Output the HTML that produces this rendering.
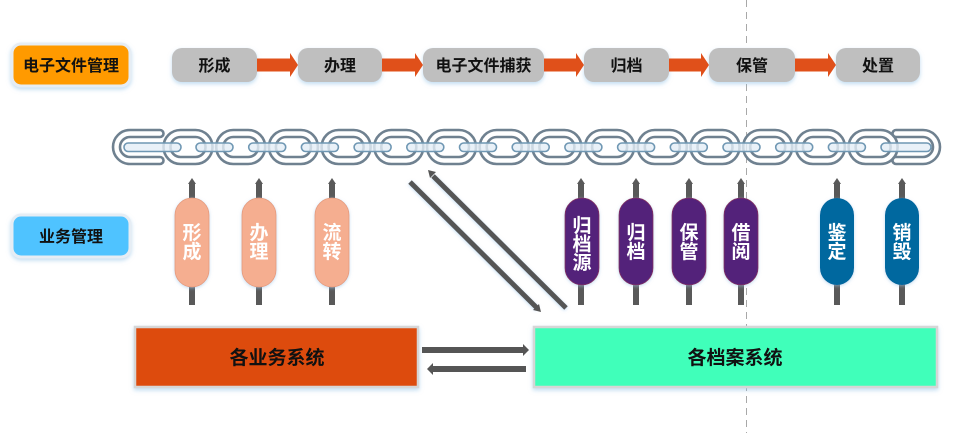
<!DOCTYPE html>
<html>
<head>
<meta charset="utf-8">
<style>
  html, body { margin: 0; padding: 0; background: #ffffff; }
  body { width: 954px; height: 433px; overflow: hidden; }
  svg { display: block; }
  text { font-family: "Liberation Sans", "Noto Sans CJK SC", "WenQuanYi Zen Hei", sans-serif; font-weight: bold; }
</style>
</head>
<body>
<svg width="954" height="433" viewBox="0 0 954 433" xmlns="http://www.w3.org/2000/svg">
  <defs>
    <filter id="sh" x="-20%" y="-20%" width="140%" height="150%">
      <feDropShadow dx="0" dy="2" stdDeviation="2" flood-color="#8fc0e6" flood-opacity="0.55"/>
    </filter>
    <filter id="sh2" x="-20%" y="-20%" width="140%" height="140%">
      <feDropShadow dx="0" dy="1" stdDeviation="1.5" flood-color="#9cc6e8" flood-opacity="0.6"/>
    </filter>
  </defs>

  <!-- dashed vertical line -->
  <line x1="746.5" y1="0" x2="746.5" y2="433" stroke="#a8a8a8" stroke-width="1" stroke-dasharray="7 5"/>

  <!-- Left label boxes -->
  <rect x="12" y="44" width="118" height="42" rx="9" fill="#ff9a00" stroke="#e6edf4" stroke-width="3" filter="url(#sh)"/>
  <text x="71" y="71" font-size="16" text-anchor="middle" fill="#111">电子文件管理</text>

  <rect x="12" y="215" width="118" height="42" rx="9" fill="#4fc3ff" stroke="#e6edf4" stroke-width="3" filter="url(#sh)"/>
  <text x="71" y="242" font-size="16" text-anchor="middle" fill="#111">业务管理</text>

  <!-- Top process boxes -->
  <g filter="url(#sh)">
    <rect x="172" y="48" width="85" height="34" rx="10" fill="#bfbfbf"/>
    <rect x="298" y="48" width="84" height="34" rx="10" fill="#bfbfbf"/>
    <rect x="423" y="48" width="121" height="34" rx="10" fill="#bfbfbf"/>
    <rect x="584" y="48" width="85" height="34" rx="10" fill="#bfbfbf"/>
    <rect x="709" y="48" width="86" height="34" rx="10" fill="#bfbfbf"/>
    <rect x="836" y="48" width="84" height="34" rx="10" fill="#bfbfbf"/>
  </g>
  <g font-size="16" text-anchor="middle" fill="#111">
    <text x="214.5" y="71">形成</text>
    <text x="340" y="71">办理</text>
    <text x="483.5" y="71">电子文件捕获</text>
    <text x="626.5" y="71">归档</text>
    <text x="752" y="71">保管</text>
    <text x="878" y="71">处置</text>
  </g>

  <!-- Orange arrows -->
  <g fill="#e0501a">
    <rect x="257" y="58.5" width="34" height="13"/><polygon points="290,53 298,65 290,77"/>
    <rect x="382" y="58.5" width="34" height="13"/><polygon points="415,53 423,65 415,77"/>
    <rect x="544" y="58.5" width="33" height="13"/><polygon points="576,53 584,65 576,77"/>
    <rect x="669" y="58.5" width="33" height="13"/><polygon points="701,53 709,65 701,77"/>
    <rect x="795" y="58.5" width="34" height="13"/><polygon points="828,53 836,65 828,77"/>
  </g>

  <!-- Chain -->
  <g fill="none" stroke="#6f8190" stroke-width="2.6">
    <!-- left open C -->
    <path d="M160,130 H130 A17,17 0 0 0 130,164 H160"/>
    <path d="M160,137 H130 A10,10 0 0 0 130,157 H160"/>
    <path d="M160,130 A3.5,3.5 0 0 1 160,137"/>
    <path d="M160,157 A3.5,3.5 0 0 1 160,164"/>
    <!-- right open C -->
    <path d="M896,130 H923 A17,17 0 0 1 923,164 H896"/>
    <path d="M896,137 H923 A10,10 0 0 1 923,157 H896"/>
    <path d="M896,130 A3.5,3.5 0 0 0 896,137"/>
    <path d="M896,157 A3.5,3.5 0 0 0 896,164"/>
    <!-- full links -->
    <rect x="163.5" y="130" width="49" height="34" rx="17"/><rect x="170.5" y="137" width="35" height="20" rx="10"/>
    <rect x="216.2" y="130" width="49" height="34" rx="17"/><rect x="223.2" y="137" width="35" height="20" rx="10"/>
    <rect x="268.9" y="130" width="49" height="34" rx="17"/><rect x="275.9" y="137" width="35" height="20" rx="10"/>
    <rect x="321.6" y="130" width="49" height="34" rx="17"/><rect x="328.6" y="137" width="35" height="20" rx="10"/>
    <rect x="374.3" y="130" width="49" height="34" rx="17"/><rect x="381.3" y="137" width="35" height="20" rx="10"/>
    <rect x="427.0" y="130" width="49" height="34" rx="17"/><rect x="434.0" y="137" width="35" height="20" rx="10"/>
    <rect x="479.7" y="130" width="49" height="34" rx="17"/><rect x="486.7" y="137" width="35" height="20" rx="10"/>
    <rect x="532.4" y="130" width="49" height="34" rx="17"/><rect x="539.4" y="137" width="35" height="20" rx="10"/>
    <rect x="585.1" y="130" width="49" height="34" rx="17"/><rect x="592.1" y="137" width="35" height="20" rx="10"/>
    <rect x="637.8" y="130" width="49" height="34" rx="17"/><rect x="644.8" y="137" width="35" height="20" rx="10"/>
    <rect x="690.5" y="130" width="49" height="34" rx="17"/><rect x="697.5" y="137" width="35" height="20" rx="10"/>
    <rect x="743.2" y="130" width="49" height="34" rx="17"/><rect x="750.2" y="137" width="35" height="20" rx="10"/>
    <rect x="795.9" y="130" width="49" height="34" rx="17"/><rect x="802.9" y="137" width="35" height="20" rx="10"/>
    <rect x="848.6" y="130" width="49" height="34" rx="17"/><rect x="855.6" y="137" width="35" height="20" rx="10"/>
  </g>
  <!-- edge-on connecting links -->
  <g fill="#e3eef6" fill-opacity="0.8" stroke="#6f97b3" stroke-width="1.6">
    <rect x="124" y="143" width="57" height="8.5" rx="4.25"/>
    <rect x="196" y="143" width="37" height="8.5" rx="4.25"/>
    <rect x="248.7" y="143" width="37" height="8.5" rx="4.25"/>
    <rect x="301.4" y="143" width="37" height="8.5" rx="4.25"/>
    <rect x="354.1" y="143" width="37" height="8.5" rx="4.25"/>
    <rect x="406.8" y="143" width="37" height="8.5" rx="4.25"/>
    <rect x="459.5" y="143" width="37" height="8.5" rx="4.25"/>
    <rect x="512.2" y="143" width="37" height="8.5" rx="4.25"/>
    <rect x="564.9" y="143" width="37" height="8.5" rx="4.25"/>
    <rect x="617.6" y="143" width="37" height="8.5" rx="4.25"/>
    <rect x="670.3" y="143" width="37" height="8.5" rx="4.25"/>
    <rect x="723.0" y="143" width="37" height="8.5" rx="4.25"/>
    <rect x="775.7" y="143" width="37" height="8.5" rx="4.25"/>
    <rect x="828.4" y="143" width="37" height="8.5" rx="4.25"/>
    <rect x="881" y="143" width="50" height="8.5" rx="4.25"/>
  </g>

  <!-- Vertical arrows -->
  <g fill="#595959">
    <rect x="189" y="183" width="6" height="122"/><polygon points="188,184 192,178 196,184"/>
    <rect x="256" y="183" width="6" height="122"/><polygon points="255,184 259,178 263,184"/>
    <rect x="329" y="183" width="6" height="122"/><polygon points="328,184 332,178 336,184"/>
    <rect x="578" y="183" width="6" height="122"/><polygon points="577,184 581,178 585,184"/>
    <rect x="633" y="183" width="6" height="122"/><polygon points="632,184 636,178 640,184"/>
    <rect x="686" y="183" width="6" height="122"/><polygon points="685,184 689,178 693,184"/>
    <rect x="738" y="183" width="6" height="122"/><polygon points="737,184 741,178 745,184"/>
    <rect x="834" y="183" width="6" height="122"/><polygon points="833,184 837,178 841,184"/>
    <rect x="899" y="183" width="6" height="122"/><polygon points="898,184 902,178 906,184"/>
  </g>

  <!-- Pills -->
  <g filter="url(#sh2)">
    <rect x="175" y="198" width="34" height="89" rx="17" fill="#f5ae90" stroke="#e49a7c" stroke-width="0.8"/>
    <rect x="242" y="198" width="34" height="89" rx="17" fill="#f5ae90" stroke="#e49a7c" stroke-width="0.8"/>
    <rect x="315" y="198" width="34" height="89" rx="17" fill="#f5ae90" stroke="#e49a7c" stroke-width="0.8"/>
    <rect x="565" y="198" width="34" height="87" rx="17" fill="#52237a" stroke="#8a3060" stroke-width="0.8"/>
    <rect x="619" y="198" width="34" height="87" rx="17" fill="#52237a" stroke="#8a3060" stroke-width="0.8"/>
    <rect x="672" y="198" width="34" height="87" rx="17" fill="#52237a" stroke="#8a3060" stroke-width="0.8"/>
    <rect x="724" y="198" width="34" height="87" rx="17" fill="#52237a" stroke="#8a3060" stroke-width="0.8"/>
    <rect x="820" y="198" width="34" height="87" rx="17" fill="#00689f"/>
    <rect x="885" y="198" width="34" height="87" rx="17" fill="#00689f"/>
  </g>
  <g font-size="19" text-anchor="middle" fill="#ffffff">
    <text x="192" y="239">形</text><text x="192" y="258">成</text>
    <text x="259" y="239">办</text><text x="259" y="258">理</text>
    <text x="332" y="239">流</text><text x="332" y="258">转</text>
    <text x="582" y="232">归</text><text x="582" y="250.5">档</text><text x="582" y="269">源</text>
    <text x="636" y="239">归</text><text x="636" y="258">档</text>
    <text x="689" y="239">保</text><text x="689" y="258">管</text>
    <text x="741" y="239">借</text><text x="741" y="258">阅</text>
    <text x="837" y="239">鉴</text><text x="837" y="258">定</text>
    <text x="902" y="239">销</text><text x="902" y="258">毁</text>
  </g>

  <!-- Diagonal lines -->
  <g stroke="#555555" stroke-width="5" stroke-linecap="butt" filter="url(#sh2)">
    <line x1="410" y1="182" x2="537" y2="308"/>
    <line x1="433" y1="176" x2="566" y2="308"/>
  </g>
  <g fill="#555555">
    <polygon points="533,310 541,312 539,304"/>
    <polygon points="436,172 428,170 430,178"/>
  </g>

  <!-- Bottom boxes -->
  <rect x="135" y="327" width="283" height="60" fill="#dd4c11" stroke="#d6d6d6" stroke-width="2.5" filter="url(#sh)"/>
  <text x="277" y="364" font-size="19" text-anchor="middle" fill="#111">各业务系统</text>
  <rect x="534" y="327" width="403" height="60" fill="#40ffba" stroke="#d6d6d6" stroke-width="2.5" filter="url(#sh)"/>
  <text x="735" y="364" font-size="19" text-anchor="middle" fill="#111">各档案系统</text>

  <!-- Horizontal arrows between systems -->
  <g fill="#555555">
    <rect x="422" y="347" width="102" height="6"/><polygon points="523,344 529,350 523,356"/>
    <rect x="432" y="366" width="94" height="6"/><polygon points="433,363 427,369 433,375"/>
  </g>
</svg>
</body>
</html>
